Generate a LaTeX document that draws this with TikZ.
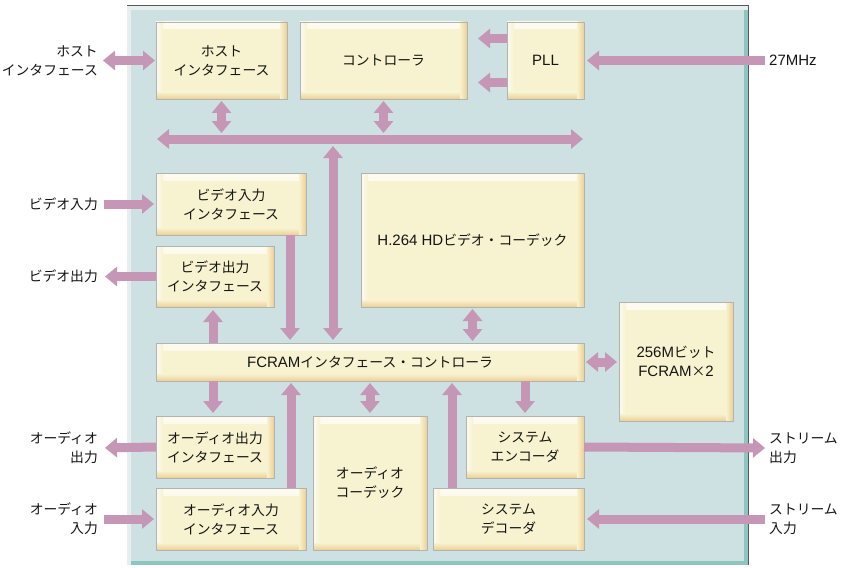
\documentclass[tikz,border=0pt]{standalone}
\usepackage{fontspec}
\setmainfont{Noto Sans CJK JP}
\newfontfamily\latfont{Liberation Sans}
\newcommand\latx[1]{{\latfont\fontsize{15pt}{19pt}\selectfont #1}}
\usetikzlibrary{arrows.meta}
\definecolor{panel}{HTML}{CDE1E2}
\definecolor{panelrim}{HTML}{E6EFEE}
\definecolor{panelteal}{HTML}{8DC5C0}
\definecolor{boxface}{HTML}{F7F2CF}
\definecolor{boxtan}{HTML}{EDCF94}
\definecolor{boxhi}{HTML}{FDFBF0}
\definecolor{arrowc}{HTML}{C596B5}
\definecolor{txt}{HTML}{151515}
\tikzset{
  blk/.style={fill=boxface, draw=gray!60, line width=0.4pt, inner sep=0pt, outer sep=0pt,
    align=center, text=txt, font=\fontsize{13.8pt}{19pt}\selectfont,
    path picture={
      \shade[top color=boxhi, bottom color=boxface] (path picture bounding box.north west) rectangle ([yshift=-7pt]path picture bounding box.north east);
      \shade[left color=boxhi, right color=boxface] (path picture bounding box.north west) rectangle ([xshift=7pt]path picture bounding box.south west);
      \shade[top color=boxface, bottom color=boxtan] ([yshift=7pt]path picture bounding box.south west) rectangle (path picture bounding box.south east);
      \shade[left color=boxface, right color=boxtan] ([xshift=-7pt]path picture bounding box.north east) rectangle (path picture bounding box.south east);
    }},
  lbl/.style={inner sep=2pt, align=right, text=txt, font=\fontsize{13.8pt}{19pt}\selectfont},
  rlbl/.style={inner sep=2pt, align=left, text=txt, font=\fontsize{13.8pt}{19pt}\selectfont},
  arr/.style={draw=arrowc, line width=9pt, -{Triangle[width=19pt,length=12pt]}},
  arrb/.style={draw=arrowc, line width=9pt, {Triangle[width=19pt,length=12pt]}-{Triangle[width=19pt,length=12pt]}},
}
\begin{document}
\begin{tikzpicture}[x=1pt,y=-1pt]
\useasboundingbox (0,0) rectangle (845,567);
% panel
\fill[panelrim] (127,5) rectangle (748,565);
\fill[panel] (131,10) rectangle (744,561);
\fill[panelteal] (744,10) rectangle (748,565);
\fill[panelteal] (131,561) rectangle (748,565);
\draw[gray!70!black, line width=0.8pt] (127,5) -- (748,5) -- (748,565);
% guides
\coordinate (g213) at (213,0);
\coordinate (g290) at (290,0);
\coordinate (g291) at (291,0);
\coordinate (g333) at (333,0);
\coordinate (g452) at (452,0);
\coordinate (busL) at (157,139);
\coordinate (busR) at (583,139);
% blocks
\node[blk, minimum width=131pt, minimum height=77pt] (host) at (221.5,60.5) {ホスト\\インタフェース};
\node[blk, minimum width=167pt, minimum height=77pt] (ctrl) at (383.5,60.5) {コントローラ};
\node[blk, minimum width=77pt, minimum height=77pt] (pll) at (545.5,60.5) {\latx{PLL}};
\node[blk, minimum width=150pt, minimum height=62pt] (vin) at (231,204) {ビデオ入力\\インタフェース};
\node[blk, minimum width=118pt, minimum height=61pt] (vout) at (215,276.5) {ビデオ出力\\インタフェース};
\node[blk, minimum width=223pt, minimum height=134pt] (h264) at (472.5,240) {\latx{H.264 HD}ビデオ・コーデック};
\node[blk, minimum width=428pt, minimum height=38pt] (fcif) at (370,362) {\latx{FCRAM}インタフェース・コントローラ};
\node[blk, minimum width=114pt, minimum height=119pt] (fcram) at (676,361.5) {\latx{256M}ビット\\\latx{FCRAM}×\latx{2}};
\node[blk, minimum width=118pt, minimum height=62pt] (aout) at (215,447) {オーディオ出力\\インタフェース};
\node[blk, minimum width=150pt, minimum height=62pt] (ain) at (231,519) {オーディオ入力\\インタフェース};
\node[blk, minimum width=114pt, minimum height=134pt] (acod) at (370,483) {オーディオ\\コーデック};
\node[blk, minimum width=118pt, minimum height=62pt] (senc) at (525,447) {システム\\エンコーダ};
\node[blk, minimum width=151pt, minimum height=62pt] (sdec) at (508.5,519) {システム\\デコーダ};
% external labels
\node[lbl, anchor=east] (hostlbl) at (100,60.5) {ホスト\\インタフェース};
\node[lbl, anchor=east] (vinlbl) at (100,204) {ビデオ入力};
\node[lbl, anchor=east] (voutlbl) at (100,276.5) {ビデオ出力};
\node[lbl, anchor=east] (aoutlbl) at (100,448) {オーディオ\\出力};
\node[lbl, anchor=east] (ainlbl) at (100,519) {オーディオ\\入力};
\node[rlbl, anchor=west] (mhz) at (767,60.5) {\latx{27MHz}};
\node[rlbl, anchor=west] (soutlbl) at (767,448) {ストリーム\\出力};
\node[rlbl, anchor=west] (sinlbl) at (767,519) {ストリーム\\入力};
% top area
\draw[arrb, shorten <=3pt, shorten >=1pt] (hostlbl.east) -- (host.west);
\draw[arr, shorten >=11pt] ([yshift=22pt]pll.west) -- ([yshift=22pt]ctrl.east);
\draw[arr, shorten >=11pt] ([yshift=-22pt]pll.west) -- ([yshift=-22pt]ctrl.east);
\draw[arr, shorten <=2pt, shorten >=3pt] (mhz.west) -- (pll.east);
\draw[arrb] (busL) -- (busR);
\draw[arrb, shorten <=2pt, shorten >=6pt] (host.south) -- (host.south |- busL);
\draw[arrb, shorten <=2pt, shorten >=6pt] (ctrl.south) -- (ctrl.south |- busL);
\draw[arrb, shorten <=7pt, shorten >=3pt] (g333 |- busL) -- (fcif.north -| g333);
% video
\draw[arr, shorten <=4pt, shorten >=2pt] (vinlbl.east) -- (vin.west);
\draw[arr, shorten >=5pt] (vout.west) -- (voutlbl.east);
\draw[arr, shorten >=3pt] (vin.south -| g290) -- (fcif.north -| g290);
\draw[arr, shorten >=3pt] (fcif.north -| g213) -- (vout.south -| g213);
\draw[arrb, shorten <=2pt, shorten >=2pt] (h264.south) -- (h264.south |- fcif.north);
\draw[arrb, shorten <=2pt, shorten >=2pt] (fcif.east) -- (fcif.east -| fcram.west);
% lower
\draw[arr, shorten >=3pt] (fcif.south -| g213) -- (aout.north -| g213);
\draw[arr, shorten >=2pt] (ain.north -| g291) -- (fcif.south -| g291);
\draw[arrb, shorten <=3pt, shorten >=2pt] (acod.north) -- (acod.north |- fcif.south);
\draw[arr, shorten >=2pt] (sdec.north -| g452) -- (fcif.south -| g452);
\draw[arr, shorten >=3pt] (senc.north |- fcif.south) -- (senc.north);
\draw[arr, shorten >=5pt] (aout.west) -- (aoutlbl.east);
\draw[arr, shorten <=4pt, shorten >=2pt] (ainlbl.east) -- (ain.west);
\draw[arr, shorten >=2pt] (senc.east) -- (soutlbl.west);
\draw[arr, shorten <=2pt, shorten >=3pt] (sinlbl.west) -- (sdec.east);
\end{tikzpicture}
\end{document}
